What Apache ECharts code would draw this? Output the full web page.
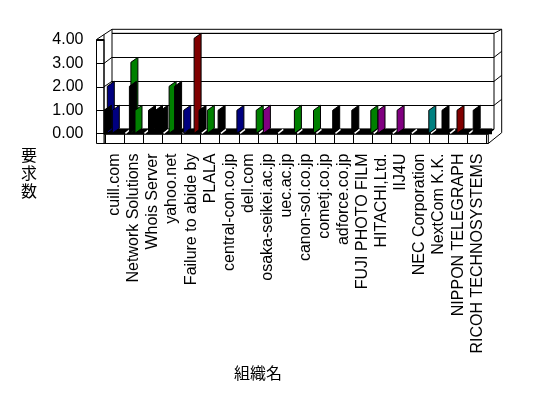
<!DOCTYPE html>
<html><head><meta charset="utf-8">
<script src="https://cdn.jsdelivr.net/npm/echarts@6/dist/echarts.min.js"></script>
<style>html,body{margin:0;padding:0;background:#fff}#c{width:548px;height:398px}</style>
</head><body><div id="c"></div>
<script>
const categories = ['cuill.com','Network Solutions','Whois Server','yahoo.net','Failure to abide by','PLALA','central-con.co.jp','dell.com','osaka-seikei.ac.jp','uec.ac.jp','canon-sol.co.jp','cometj.co.jp','adforce.co.jp','FUJI PHOTO FILM','HITACHI,Ltd.','IIJ4U','NEC Corporation','NextCom K.K.','NIPPON TELEGRAPH','RICOH TECHNOSYSTEMS'];
const yTicks = [0, 1, 2, 3, 4];
//                0 1 2 3 4 5 6 7 8 9 10 11 12 13 14 15 16 17 18 19
const blueA   = [2,0,0,0,1,0,0,0,0,0, 0, 0, 0, 0, 0, 0, 0, 0, 0, 0];
const greenA  = [0,3,0,2,0,1,0,0,0,0, 0, 0, 0, 0, 0, 0, 0, 0, 0, 0];
const redA    = [0,0,0,0,4,0,0,0,0,0, 0, 0, 0, 0, 0, 0, 0, 0, 0, 0];
const blackA  = [1,0,0,0,0,0,0,0,0,0, 0, 0, 0, 0, 0, 0, 0, 0, 0, 0];
const blackB  = [0,2,1,0,0,0,0,0,0,0, 0, 0, 0, 0, 0, 0, 0, 0, 0, 1];
const blackC  = [0,0,1,2,0,0,0,0,0,0, 0, 0, 0, 0, 0, 0, 0, 1, 0, 0];
const blackD  = [0,0,1,0,1,1,0,0,0,0, 0, 1, 1, 0, 0, 0, 0, 0, 0, 0];
const blueB   = [1,0,0,0,0,0,0,0,0,0, 0, 0, 0, 0, 0, 0, 0, 0, 0, 0];
const greenB  = [0,1,0,0,0,0,0,0,0,0, 0, 0, 0, 0, 0, 0, 0, 0, 0, 0];
const greenC  = [0,0,0,0,0,0,0,1,0,1, 1, 0, 0, 1, 0, 0, 0, 0, 0, 0];
const blueC   = [0,0,0,0,0,0,1,0,0,0, 0, 0, 0, 0, 0, 0, 0, 0, 0, 0];
const purpleA = [0,0,0,0,0,0,0,0,1,0, 0, 0, 0, 0, 1, 1, 0, 0, 0, 0];
const redB    = [0,0,0,0,0,0,0,0,0,0, 0, 0, 0, 0, 0, 0, 0, 0, 1, 0];
const tealA   = [0,0,0,0,0,0,0,0,0,0, 0, 0, 0, 0, 0, 0, 1, 0, 0, 0];

// series layout (style / position inside a category, not data)
const barDefs = [
  [blueA, '#000080', 2], [greenA, '#008000', 6.5], [redA, '#800000', 12.4],
  [blackA, '#000000', -1], [blackB, '#000000', 5], [blackC, '#000000', 12],
  [blackD, '#000000', 17.3], [blueB, '#000080', 7], [greenB, '#008000', 10.6],
  [greenC, '#008000', 17.2], [blueC, '#000080', 17], [purpleA, '#800080', 5.3],
  [redB, '#800000', 7.9], [tealA, '#008080', 17.9]
];

// geometry of the pseudo-3D frame
const W = {left: 112, top: 33.3, width: 382, height: 96};
const wallShift = 6.7;       // back wall offset vs front floor
const slab = {left: 96.5, top: 39.5, width: 7.5, height: 104};
const lab = {left: 96.5, top: 40, width: 7.5, height: 93.5};
const floorG = {left: 104, top: 134.3, width: 384.3, height: 9.2};
const floorAx = {left: 105.3, top: 134.3, width: 381.4, height: 9.2};
const outerTop = 29.3, outerRight = 501.7;
const yBack = v => W.top + W.height * (1 - v / 4);
const yFront = v => lab.top + lab.height * (1 - v / 4);

const FONT = 'Liberation Sans';
const blk = {color: '#000', width: 1};

function barSeries(def) {
  const [arr, color, off] = def;
  return {
    type: 'custom', xAxisIndex: 0, yAxisIndex: 0, z: 3,
    data: arr.map((v, i) => [i, v]),
    encode: {x: 0, y: 1},
    renderItem: function (params, api) {
      const i = api.value(0), v = api.value(1);
      if (!v) return null;
      const top = api.coord([i, v]);
      const base = api.coord([i, 0]);
      const bw = api.size([1, 0])[0];
      const xl = top[0] - bw / 2 + off - wallShift;
      const w = 7, s = 5;
      return {
        type: 'polygon',
        shape: {points: [[xl, top[1] + s], [xl + w, top[1]], [xl + w, base[1] - 1], [xl, base[1] + 4]]},
        style: {fill: color, stroke: '#000', lineWidth: 1}
      };
    }
  };
}

const slashSeries = {
  type: 'custom', xAxisIndex: 0, yAxisIndex: 0, z: 2,
  data: categories.map((c, i) => [i, 0]),
  encode: {x: 0, y: 1},
  renderItem: function (params, api) {
    const i = api.value(0);
    if (i === 0) return null;
    const p = api.coord([i, 0]);
    const bw = api.size([1, 0])[0];
    const x0 = p[0] - bw / 2 - wallShift + 1;
    return {type: 'line', shape: {x1: x0, y1: p[1] + 4, x2: x0 + 5, y2: p[1]},
      style: {stroke: '#fff', lineWidth: 1.5}};
  }
};

const frameLines = [];
function ln(x1, y1, x2, y2) {
  frameLines.push({type: 'line', z: 5, shape: {x1, y1, x2, y2}, style: {stroke: '#000', lineWidth: 1}});
}
frameLines.push({type: 'polyline', z: 5,
  shape: {points: [[slab.left, slab.top], [W.left, outerTop], [outerRight, outerTop], [outerRight, 132.7], [floorG.left + floorG.width, floorG.top + floorG.height]]},
  style: {stroke: '#000', fill: null, lineWidth: 1}});
ln(W.left, outerTop, W.left, W.top);
ln(slab.left + slab.width, 34.6, slab.left + slab.width, floorG.top);
ln(W.left + W.width, W.top, outerRight, outerTop);
ln(floorG.left + floorG.width, floorG.top, W.left + W.width, W.top + W.height);
[1, 2, 3].forEach(v => {
  ln(slab.left + slab.width, yFront(v), W.left, yBack(v));
  ln(W.left + W.width, yBack(v), outerRight, yBack(v) - 6);
});

const hidden = {show: false};
const option = {
  backgroundColor: '#fff',
  animation: false,
  title: [
    {text: '要\n求\n数', left: 21, top: 146, padding: 0,
      textStyle: {fontSize: 16, fontWeight: 'normal', lineHeight: 18, color: '#000', fontFamily: 'Noto Sans CJK JP'}},
    {text: '組織名', left: 234, top: 365, padding: 0,
      textStyle: {fontSize: 16, fontWeight: 'normal', color: '#000', fontFamily: 'Noto Sans CJK JP'}}
  ],
  grid: [
    Object.assign({show: true, borderColor: '#000', borderWidth: 1, backgroundColor: '#fff'}, W),
    {left: 104, top: 128.5, width: 388, height: 5.8, show: true, borderWidth: 0, backgroundColor: '#000'},
    Object.assign({show: true, borderColor: '#000', borderWidth: 1, backgroundColor: '#fff'}, floorG),
    Object.assign({show: false}, floorAx),
    Object.assign({show: true, borderColor: '#000', borderWidth: 1, backgroundColor: '#fff'}, slab),
    Object.assign({show: false}, lab)
  ],
  xAxis: [
    {gridIndex: 0, type: 'category', data: categories, show: false},
    {gridIndex: 1, type: 'category', data: categories, show: false},
    {gridIndex: 2, type: 'category', data: categories, show: false},
    {gridIndex: 3, type: 'category', data: categories, position: 'bottom',
      axisLine: {show: false},
      axisTick: {show: true, inside: true, length: floorAx.height, interval: 0, lineStyle: blk},
      axisLabel: {interval: 0, rotate: 90, margin: 10, fontSize: 16, fontFamily: FONT, color: '#000'},
      splitLine: {show: false}},
    {gridIndex: 4, type: 'category', data: categories, show: false},
    {gridIndex: 5, type: 'category', data: categories, show: false}
  ],
  yAxis: [
    {gridIndex: 0, type: 'value', min: yTicks[0], max: yTicks[yTicks.length - 1], interval: 1,
      axisLabel: {show: false}, axisLine: {show: false}, axisTick: {show: false},
      splitLine: {show: true, lineStyle: blk}},
    {gridIndex: 1, type: 'value', show: false},
    {gridIndex: 2, type: 'value', show: false},
    {gridIndex: 3, type: 'value', show: false},
    {gridIndex: 4, type: 'value', show: false},
    {gridIndex: 5, type: 'value', min: yTicks[0], max: yTicks[yTicks.length - 1], interval: 1,
      axisLabel: {show: true, margin: 13, fontSize: 16, fontFamily: FONT, color: '#000',
        formatter: v => v.toFixed(2)},
      axisLine: {show: false}, axisTick: {show: false},
      splitLine: {show: true, lineStyle: blk}}
  ],
  graphic: frameLines,
  series: [slashSeries].concat(barDefs.map(barSeries))
};
const chart = echarts.init(document.getElementById('c'), null, {renderer: 'canvas'});
chart.setOption(option);
</script>
</body></html>
